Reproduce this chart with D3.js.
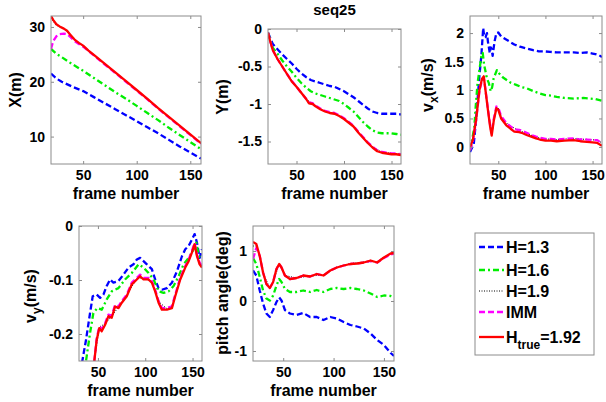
<!DOCTYPE html>
<html>
<head>
<meta charset="utf-8">
<script src="https://cdn.jsdelivr.net/npm/d3@7/dist/d3.min.js"></script>
<style>
  body { margin: 0; background: #fff; }
  text { font-family: "Liberation Sans", Arial, sans-serif; font-weight: bold; fill: #000; }
</style>
</head>
<body>
<svg id="fig" width="606" height="402"></svg>
<script>
/* DATA : [frame, value] */

// X(m)
const xH13 = [[20,21.5],[25,20.6],[30,20.0],[40,19.1],[50,18.3],[60,17.2],[70,16.1],[80,15.0],[90,13.9],[100,12.8],[110,11.7],[120,10.6],[130,9.4],[140,8.2],[150,7.1],[160,6.0]];
const xH16 = [[20,26.0],[25,25.1],[30,24.5],[40,23.2],[50,22.0],[60,20.7],[70,19.4],[80,18.1],[90,16.9],[100,15.6],[110,14.3],[120,13.0],[130,11.6],[140,10.3],[150,9.0],[160,7.7]];
const xH19 = [[20,31.6],[25,30.3],[30,29.9],[35,29.2],[40,28.1],[50,26.5],[60,24.9],[80,21.7],[100,18.4],[120,15.2],[140,12.0],[160,8.7]];
const xIMM = [[20,26.0],[22,27.4],[25,28.3],[28,28.7],[32,28.8],[35,28.7],[38,28.2],[42,27.4],[46,26.9],[50,26.4],[55,25.6],[60,24.8],[70,23.2],[80,21.6],[90,20.0],[100,18.4],[110,16.8],[120,15.1],[130,13.5],[140,11.9],[150,10.3],[160,8.7]];
const xTrue = [[20,32.0],[22,31.3],[25,30.5],[28,30.1],[32,29.7],[35,29.3],[38,28.6],[42,27.7],[46,27.1],[50,26.6],[55,25.7],[60,24.9],[70,23.3],[80,21.7],[90,20.1],[100,18.5],[110,16.9],[120,15.2],[130,13.6],[140,12.0],[150,10.4],[160,8.8]];

// Y(m)
const yH13 = [[20,-0.05],[25,-0.2],[30,-0.27],[35,-0.34],[40,-0.4],[45,-0.46],[50,-0.53],[55,-0.59],[60,-0.64],[65,-0.68],[70,-0.7],[75,-0.72],[80,-0.74],[85,-0.76],[90,-0.77],[95,-0.8],[100,-0.83],[105,-0.87],[110,-0.91],[115,-0.96],[120,-1.01],[125,-1.06],[130,-1.1],[135,-1.12],[140,-1.13],[145,-1.13],[150,-1.13],[155,-1.13],[160,-1.14]];
const yH16 = [[20,-0.05],[25,-0.25],[30,-0.33],[35,-0.42],[40,-0.5],[45,-0.57],[50,-0.65],[55,-0.72],[60,-0.78],[65,-0.83],[70,-0.86],[75,-0.88],[80,-0.9],[85,-0.92],[90,-0.94],[95,-0.96],[100,-1.0],[105,-1.05],[110,-1.1],[115,-1.17],[120,-1.24],[125,-1.3],[130,-1.35],[135,-1.38],[140,-1.39],[145,-1.39],[150,-1.39],[155,-1.4],[160,-1.41]];
const yH19 = [[20,-0.05],[25,-0.28],[30,-0.4],[40,-0.6],[50,-0.77],[60,-0.93],[70,-1.03],[80,-1.1],[90,-1.13],[100,-1.2],[110,-1.3],[120,-1.45],[130,-1.57],[140,-1.64],[150,-1.66],[160,-1.67]];
const yIMM = [[20,-0.05],[25,-0.28],[30,-0.4],[35,-0.5],[40,-0.6],[45,-0.69],[50,-0.77],[55,-0.85],[60,-0.93],[63,-0.98],[67,-0.99],[70,-1.02],[75,-1.06],[80,-1.09],[85,-1.11],[90,-1.12],[95,-1.15],[100,-1.19],[105,-1.24],[110,-1.29],[115,-1.37],[120,-1.44],[125,-1.51],[130,-1.57],[135,-1.62],[140,-1.64],[145,-1.65],[150,-1.66],[155,-1.66],[160,-1.67]];
const yTrue = [[20,-0.05],[22,-0.15],[25,-0.28],[30,-0.4],[35,-0.5],[40,-0.6],[45,-0.7],[50,-0.77],[55,-0.85],[60,-0.93],[63,-0.99],[67,-1.0],[70,-1.03],[75,-1.07],[80,-1.1],[85,-1.12],[90,-1.13],[95,-1.16],[100,-1.2],[105,-1.25],[110,-1.3],[115,-1.38],[120,-1.45],[125,-1.52],[130,-1.58],[135,-1.63],[140,-1.65],[145,-1.66],[150,-1.67],[155,-1.67],[160,-1.68]];

// vx(m/s)
const vxH13 = [[20,-0.09],[22,-0.02],[24,0.05],[26,0.4],[28,0.82],[30,1.25],[32,1.6],[34,2.09],[35,1.95],[36.5,1.93],[38,2.0],[39,1.85],[41,1.65],[42,1.75],[43,1.72],[44,1.6],[46,1.85],[48,2.0],[50,2.01],[53,1.94],[57,1.9],[62,1.85],[67,1.8],[73,1.76],[80,1.73],[87,1.7],[93,1.68],[98,1.68],[105,1.67],[112,1.66],[120,1.66],[130,1.66],[137,1.65],[144,1.66],[150,1.64],[153,1.63],[157,1.61],[160,1.58]];
const vxH16 = [[20,-0.06],[22,0.1],[24.6,0.35],[26,0.7],[28,1.12],[30,1.35],[32,1.59],[33.5,1.65],[35,1.44],[38,1.2],[40,1.12],[42,0.98],[43.5,1.05],[45,1.2],[48.5,1.35],[51,1.29],[55,1.22],[58.5,1.18],[63,1.13],[69,1.09],[75,1.05],[80,1.03],[87,0.98],[94,0.94],[100,0.91],[106,0.9],[112,0.88],[120,0.86],[130,0.85],[140,0.86],[147,0.85],[153,0.84],[160,0.81]];
const vxH19 = [[20,-0.05],[23,0.1],[26.4,0.46],[30,0.99],[33,1.19],[34.6,1.23],[36.4,1.0],[39,0.66],[41.4,0.37],[43,0.22],[45.3,0.49],[48,0.7],[50,0.68],[53,0.53],[60,0.4],[70,0.3],[80,0.24],[90,0.17],[100,0.14],[112,0.13],[130,0.15],[144,0.13],[155,0.12],[160,0.07]];
const vxIMM = [[20,-0.06],[23,0.1],[26.4,0.45],[30,0.98],[32.8,1.18],[34.6,1.22],[36.4,1.0],[39,0.67],[41.4,0.38],[43,0.24],[45.3,0.5],[48,0.71],[50,0.69],[53,0.54],[58.5,0.42],[63,0.36],[67,0.31],[72,0.3],[76,0.28],[80,0.25],[85,0.21],[90,0.18],[94,0.16],[100,0.14],[106,0.14],[112,0.13],[120,0.14],[130,0.15],[137,0.13],[144,0.13],[150,0.12],[155,0.12],[160,0.06]];
const vxTrue = [[20,0.0],[23,0.12],[26.4,0.47],[30,1.0],[32.8,1.2],[34.6,1.24],[36.4,1.0],[39,0.65],[41.4,0.35],[43,0.2],[45.3,0.47],[48,0.68],[50,0.65],[53,0.5],[58.5,0.38],[63,0.32],[67,0.27],[72,0.26],[76,0.24],[80,0.21],[85,0.18],[90,0.15],[94,0.13],[100,0.11],[106,0.11],[112,0.1],[120,0.11],[130,0.12],[137,0.1],[144,0.09],[150,0.08],[155,0.07],[160,0.02]];

// vy(m/s)
const vyH13 = [[30,-0.32],[33.5,-0.25],[37.4,-0.211],[41.7,-0.161],[44.5,-0.13],[48.7,-0.127],[52.3,-0.133],[55.8,-0.127],[59.3,-0.111],[62.9,-0.099],[66.4,-0.105],[71.7,-0.102],[77,-0.09],[82.3,-0.077],[87.6,-0.071],[91.1,-0.062],[94.6,-0.059],[98.2,-0.065],[101.7,-0.071],[107,-0.08],[110.5,-0.099],[114.1,-0.115],[117.6,-0.118],[122.9,-0.115],[128.2,-0.105],[133.5,-0.084],[138.8,-0.056],[142.3,-0.043],[145.9,-0.037],[149.4,-0.025],[152.2,-0.015],[154.7,-0.031],[157.5,-0.059],[160,-0.043]];
const vyH16 = [[33,-0.3],[37.4,-0.25],[41.7,-0.198],[45.2,-0.161],[49.4,-0.152],[54,-0.155],[59.3,-0.136],[64.6,-0.121],[71.7,-0.115],[78.7,-0.099],[85.8,-0.087],[92.9,-0.071],[98.2,-0.077],[103.5,-0.087],[108.8,-0.099],[114.1,-0.121],[119.4,-0.124],[124.7,-0.121],[130,-0.111],[135.3,-0.093],[140.6,-0.071],[145.9,-0.059],[151.2,-0.043],[154,-0.031],[156.5,-0.055],[160,-0.062]];
const vyH19 = [[42,-0.3],[46.2,-0.25],[51.5,-0.187],[57.6,-0.181],[64.6,-0.167],[71.7,-0.15],[80.5,-0.128],[91.1,-0.097],[98.2,-0.097],[107,-0.103],[114.1,-0.14],[122.9,-0.153],[128.2,-0.15],[137,-0.097],[145.9,-0.063],[152.2,-0.032],[157.5,-0.069],[160,-0.075]];
const vyIMM = [[42,-0.3],[46.2,-0.25],[48.7,-0.208],[51.5,-0.186],[54,-0.191],[57.6,-0.18],[61.1,-0.164],[64.6,-0.166],[68.1,-0.146],[71.7,-0.149],[75.2,-0.139],[80.5,-0.127],[85.8,-0.105],[91.1,-0.096],[94.6,-0.09],[98.2,-0.096],[103.5,-0.096],[107,-0.102],[110.5,-0.118],[114.1,-0.139],[117.6,-0.152],[122.9,-0.152],[128.2,-0.149],[131.7,-0.127],[137,-0.096],[142.3,-0.074],[145.9,-0.062],[149.4,-0.046],[152.2,-0.031],[154.7,-0.053],[157.5,-0.068],[160,-0.074]];
const vyTrue = [[42,-0.3],[46.2,-0.25],[48.7,-0.211],[51.5,-0.189],[54,-0.195],[57.6,-0.183],[61.1,-0.167],[64.6,-0.17],[68.1,-0.149],[71.7,-0.152],[75.2,-0.142],[80.5,-0.13],[85.8,-0.108],[91.1,-0.099],[94.6,-0.093],[98.2,-0.099],[103.5,-0.099],[107,-0.105],[110.5,-0.121],[114.1,-0.142],[117.6,-0.155],[122.9,-0.155],[128.2,-0.152],[131.7,-0.13],[137,-0.099],[142.3,-0.077],[145.9,-0.065],[149.4,-0.049],[152.2,-0.034],[154.7,-0.056],[157.5,-0.071],[160,-0.077]];

// pitch angle(deg)
const pH13 = [[20,0.61],[23.3,0.51],[26.7,0.21],[30,-0.05],[33.3,-0.25],[36.7,-0.32],[40,-0.18],[43.3,-0.02],[46,0.07],[48.3,0.01],[51.7,-0.18],[56.7,-0.25],[63.3,-0.28],[70,-0.24],[76.7,-0.32],[83.3,-0.32],[90,-0.38],[96.7,-0.32],[103.3,-0.35],[110,-0.42],[116.7,-0.48],[123.3,-0.51],[130,-0.55],[136.7,-0.65],[143.3,-0.78],[150,-0.88],[156.7,-1.04],[160,-1.1]];
const pH16 = [[20,0.86],[23.3,0.74],[26.7,0.48],[30,0.21],[33.3,0.05],[36.7,0.01],[40,0.11],[43.3,0.31],[46,0.44],[48.3,0.38],[51.7,0.24],[56.7,0.18],[63.3,0.18],[70,0.21],[76.7,0.18],[83.3,0.22],[90,0.18],[96.7,0.24],[103.3,0.26],[110,0.24],[116.7,0.26],[123.3,0.24],[130,0.21],[136.7,0.15],[143.3,0.08],[150,0.11],[156.7,0.1],[160,0.08]];
const pH19 = [[20,1.1],[23.3,1.1],[26.7,0.88],[30,0.56],[36.7,0.26],[40,0.38],[46,0.74],[51.7,0.51],[63.3,0.46],[76.7,0.5],[90,0.52],[103.3,0.68],[116.7,0.75],[130,0.78],[143.3,0.79],[150,0.88],[160,0.97]];
const pIMM = [[20,0.84],[23.3,1.06],[26.7,0.9],[30,0.57],[33.3,0.34],[36.7,0.26],[40,0.38],[43.3,0.64],[46,0.74],[48.3,0.67],[51.7,0.51],[56.7,0.44],[63.3,0.46],[70,0.51],[76.7,0.49],[83.3,0.54],[90,0.51],[96.7,0.61],[103.3,0.67],[110,0.71],[116.7,0.74],[123.3,0.75],[130,0.77],[136.7,0.8],[143.3,0.77],[150,0.86],[156.7,0.93],[160,0.95]];
const pTrue = [[20,1.18],[23.3,1.14],[26.7,0.9],[30,0.57],[33.3,0.34],[36.7,0.26],[40,0.38],[43.3,0.64],[46,0.74],[48.3,0.67],[51.7,0.51],[56.7,0.44],[63.3,0.46],[70,0.51],[76.7,0.49],[83.3,0.54],[90,0.51],[96.7,0.61],[103.3,0.67],[110,0.71],[116.7,0.74],[123.3,0.75],[130,0.77],[136.7,0.81],[143.3,0.77],[150,0.87],[156.7,0.95],[160,0.96]];

const xTicks = [50, 100, 150];
const legendLabels = ["H=1.3", "H=1.6", "H=1.9", "IMM", "H_true=1.92"];

/* STYLES */
const styles = [
  {color: "#0000ff", dash: "6,3",     width: 2.3},
  {color: "#00ee00", dash: "6,3,2,3", width: 2.3},
  {color: "#000000", dash: "1,1.5",   width: 1},
  {color: "#ff00ff", dash: "6,3",     width: 2.3},
  {color: "#ff0000", dash: null,      width: 2.3}
];

const panels = [
  {box: [51, 201, 16, 164],  xd: [20, 160], yd: [5, 32],      yTicks: [10, 20, 30],
   series: [xH13, xH16, xH19, xIMM, xTrue], ylab: ["X(m)"], lx: 15, ly: 90},
  {box: [268, 401, 29, 164], xd: [20, 160], yd: [-1.8, 0],    yTicks: [-1.5, -1, -0.5, 0],
   series: [yH13, yH16, yH19, yIMM, yTrue], ylab: ["Y(m)"], lx: 222, ly: 97, title: "seq25"},
  {box: [470, 602, 16, 164], xd: [20, 160], yd: [-0.3, 2.3],  yTicks: [0, 0.5, 1, 1.5, 2],
   series: [vxH13, vxH16, vxH19, vxIMM, vxTrue], ylab: ["v", "x", "(m/s)"], lx: 427, ly: 85},
  {box: [79, 202, 226, 361], xd: [30, 160], yd: [-0.25, 0],   yTicks: [-0.2, -0.1, 0],
   series: [vyH13, vyH16, vyH19, vyIMM, vyTrue], ylab: ["v", "y", "(m/s)"], lx: 30, ly: 296},
  {box: [253, 394, 226, 361], xd: [20, 160], yd: [-1.2, 1.5], yTicks: [-1, 0, 1],
   series: [pH13, pH16, pH19, pIMM, pTrue], ylab: ["pitch angle(deg)"], lx: 222, ly: 293}
];

const svg = d3.select("#fig");
const axisGray = "#8c8c8c";
const tickLen = 3;

panels.forEach((p, i) => {
  const [x0, x1, y0, y1] = p.box;
  const xScale = d3.scaleLinear().domain(p.xd).range([x0, x1]);
  const yScale = d3.scaleLinear().domain(p.yd).range([y1, y0]);

  const clipId = "clip" + i;
  svg.append("clipPath").attr("id", clipId)
    .append("rect").attr("x", x0).attr("y", y0).attr("width", x1 - x0).attr("height", y1 - y0);

  const line = d3.line().x(d => xScale(d[0])).y(d => yScale(d[1]));
  const g = svg.append("g").attr("clip-path", `url(#${clipId})`);
  p.series.forEach((s, k) => {
    const st = styles[k];
    g.append("path")
      .attr("d", line(s))
      .attr("fill", "none")
      .attr("stroke", st.color)
      .attr("stroke-width", st.width)
      .attr("stroke-dasharray", st.dash)
      .attr("stroke-linejoin", "round");
  });

  // axes (ticks inward, box on)
  const fmt = v => String(v);
  svg.append("g").attr("transform", `translate(0,${y1})`)
    .call(d3.axisBottom(xScale).tickValues(xTicks).tickSizeInner(-tickLen).tickSizeOuter(0).tickPadding(6).tickFormat(fmt));
  svg.append("g").attr("transform", `translate(0,${y0})`)
    .call(d3.axisTop(xScale).tickValues(xTicks).tickSizeInner(-tickLen).tickSizeOuter(0).tickFormat(""));
  svg.append("g").attr("transform", `translate(${x0},0)`)
    .call(d3.axisLeft(yScale).tickValues(p.yTicks).tickSizeInner(-tickLen).tickSizeOuter(0).tickPadding(6).tickFormat(fmt));
  svg.append("g").attr("transform", `translate(${x1},0)`)
    .call(d3.axisRight(yScale).tickValues(p.yTicks).tickSizeInner(-tickLen).tickSizeOuter(0).tickFormat(""));

  svg.append("rect")
    .attr("x", x0).attr("y", y0).attr("width", x1 - x0).attr("height", y1 - y0)
    .attr("fill", "none").attr("stroke", axisGray).attr("stroke-width", 1);

  svg.append("text")
    .attr("x", (x0 + x1) / 2).attr("y", y1 + 35)
    .attr("text-anchor", "middle").style("font-size", "16px")
    .text("frame number");

  const yl = svg.append("text")
    .attr("transform", `translate(${p.lx + 6},${p.ly}) rotate(-90)`)
    .attr("text-anchor", "middle").style("font-size", "16px");
  if (p.ylab.length === 1) {
    yl.text(p.ylab[0]);
  } else {
    yl.append("tspan").text(p.ylab[0]);
    yl.append("tspan").attr("dy", 5).style("font-size", "12px").text(p.ylab[1]);
    yl.append("tspan").attr("dy", -5).text(p.ylab[2]);
  }

  if (p.title) {
    svg.append("text")
      .attr("x", (x0 + x1) / 2).attr("y", 15)
      .attr("text-anchor", "middle").style("font-size", "15px")
      .text(p.title);
  }
});

svg.selectAll(".domain").remove();
svg.selectAll(".tick line").attr("stroke", axisGray);
svg.selectAll(".tick text").style("font-size", "14px").style("font-family", "'Liberation Sans', Arial, sans-serif").style("font-weight", "bold").attr("fill", "#000");

/* LEGEND */
const legX = 475, legY = 233, legW = 119, legH = 122;
const legRows = [247, 270, 291, 312, 337];
const leg = svg.append("g");
leg.append("rect").attr("x", legX).attr("y", legY).attr("width", legW).attr("height", legH)
  .attr("fill", "#fff").attr("stroke", axisGray);
legendLabels.forEach((lab, k) => {
  const st = styles[k];
  const yy = legRows[k];
  leg.append("line").attr("x1", 479).attr("x2", 504).attr("y1", yy).attr("y2", yy)
    .attr("stroke", st.color).attr("stroke-width", st.width).attr("stroke-dasharray", st.dash);
  const t = leg.append("text").attr("x", 506).attr("y", yy + 6).style("font-size", "16px");
  if (lab.includes("_")) {
    const [base, rest] = lab.split("_");
    const [sub, tail] = [rest.slice(0, 4), rest.slice(4)];
    t.append("tspan").text(base);
    t.append("tspan").attr("dy", 6).style("font-size", "12px").text(sub);
    t.append("tspan").attr("dy", -6).text(tail);
  } else {
    t.text(lab);
  }
});
</script>
</body>
</html>
